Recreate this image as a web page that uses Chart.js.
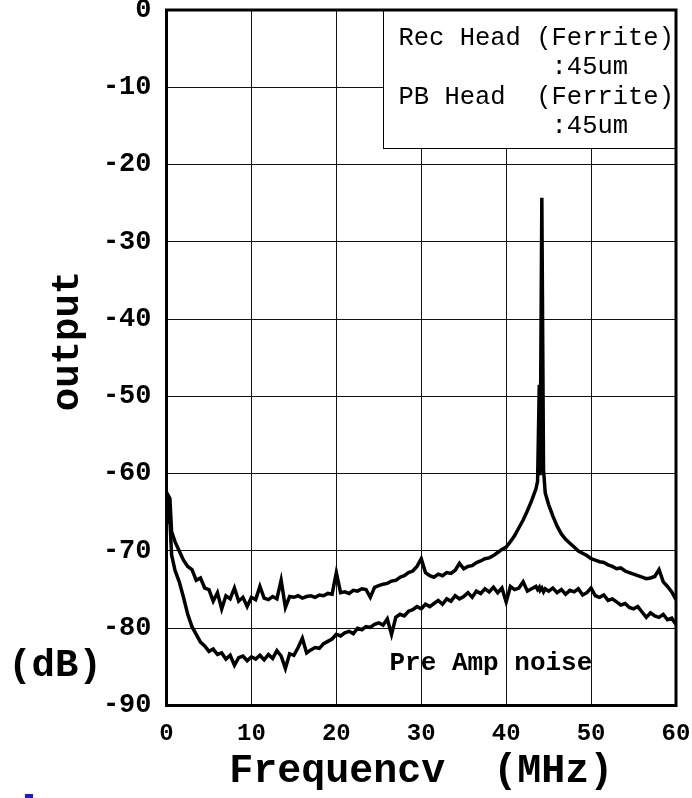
<!DOCTYPE html>
<html><head><meta charset="utf-8">
<script src="https://cdn.jsdelivr.net/npm/chart.js@4.4.0/dist/chart.umd.min.js"></script>
<style>html,body{margin:0;padding:0;background:#fff}#wrap{width:692px;height:798px}</style>
</head><body><div id="wrap"><canvas id="c" width="692" height="798"></canvas></div>
<script>
const freqMHz = [
  0,0.2,0.4,0.6,1,1.5,2,2.5,3,3.5,
  4,4.5,5,5.5,6,6.5,7,7.5,8,8.5,
  9,9.5,10,10.5,11,11.5,12,12.5,13,13.5,
  14,14.5,15,15.5,16,16.5,17,17.5,18,18.5,
  19,19.5,20,20.5,21,21.5,22,22.5,23,23.5,
  24,24.5,25,25.5,26,26.5,27,27.5,28,28.5,
  29,29.5,30,30.5,31,31.5,32,32.5,33,33.5,
  34,34.5,35,35.5,36,36.5,37,37.5,38,38.5,
  39,39.5,40,40.5,41,41.5,42,42.5,43,43.5,
  43.7,43.9,44,44.2,44.4,44.6,45,45.5,46,46.5,
  47,47.5,48,48.5,49,49.5,50,50.5,51,51.5,
  52,52.5,53,53.5,54,54.5,55,55.5,56,56.5,
  57,57.5,58,58.5,59,59.5,60
];
const recHeadOutput = [
  -66.5,-62.8,-63.2,-67.5,-68.8,-70.0,-71.2,-72.0,-72.4,-73.8,
  -73.5,-74.8,-75.0,-76.5,-75.4,-77.5,-75.8,-76.2,-74.8,-76.5,
  -76.0,-77.2,-76.0,-76.3,-74.6,-76.1,-76.3,-75.9,-76.2,-73.8,
  -77.3,-75.9,-76.0,-75.8,-76.1,-75.9,-75.8,-76.0,-75.7,-75.8,
  -75.5,-75.6,-72.8,-75.4,-75.3,-75.5,-75.1,-75.2,-74.9,-75.0,
  -76.0,-74.7,-74.5,-74.3,-74.2,-73.9,-73.8,-73.4,-73.2,-72.8,
  -72.6,-72.0,-71.0,-72.8,-73.2,-73.4,-73.0,-73.2,-72.8,-72.9,
  -72.5,-71.6,-72.3,-72.0,-71.9,-71.5,-71.3,-71.0,-70.9,-70.6,
  -70.2,-69.8,-69.5,-68.8,-68.0,-67.0,-66.0,-64.8,-63.5,-62.0,
  -61.0,-48.5,-60.2,-24.3,-59.5,-62.5,-64.0,-65.5,-66.8,-67.8,
  -68.5,-69.0,-69.5,-70.0,-70.3,-70.6,-71.0,-71.2,-71.4,-71.5,
  -71.8,-72.0,-72.3,-72.2,-72.6,-72.8,-73.0,-73.2,-73.4,-73.6,
  -73.5,-73.3,-72.4,-74.0,-74.6,-75.3,-76.3
];
const preAmpNoise = [
  -66.5,-63.0,-66.0,-70.5,-72.5,-74.0,-76.0,-78.2,-79.8,-80.8,
  -81.8,-82.3,-83.0,-82.7,-83.4,-83.2,-84.0,-83.5,-84.8,-83.8,
  -83.6,-84.2,-83.7,-84.0,-83.5,-84.1,-83.4,-83.9,-82.9,-83.6,
  -85.2,-83.3,-83.5,-82.5,-81.3,-83.2,-82.8,-82.5,-82.6,-82.0,
  -81.7,-81.4,-80.8,-81.0,-80.6,-80.4,-80.7,-80.0,-80.2,-79.8,
  -79.9,-79.5,-79.3,-79.6,-78.8,-80.8,-78.6,-78.2,-78.4,-77.8,
  -77.6,-77.2,-77.5,-76.9,-77.2,-76.8,-76.4,-76.9,-76.2,-76.5,
  -75.8,-76.2,-75.9,-75.4,-76.0,-75.2,-75.5,-74.9,-75.3,-74.7,
  -75.4,-74.8,-76.6,-74.6,-75.0,-74.8,-74.0,-75.2,-74.9,-74.6,
  -75.0,-74.7,-75.1,-74.8,-75.3,-74.9,-75.2,-74.8,-75.4,-75.0,
  -75.6,-75.1,-75.3,-74.9,-75.7,-75.4,-74.8,-75.8,-76.0,-75.7,
  -76.4,-76.2,-76.6,-77.0,-76.8,-77.3,-77.5,-77.2,-77.9,-78.6,
  -78.0,-78.4,-78.6,-78.2,-78.9,-78.7,-79.5
];
const xTickValues = [0,10,20,30,40,50,60];
const yTickValues = [0,-10,-20,-30,-40,-50,-60,-70,-80,-90];
const legendLines = ['Rec Head (Ferrite)', '          :45um', 'PB Head  (Ferrite)', '          :45um'];
const xTitle = 'Frequencv  (MHz)';
const yTitle = 'output';
const unitLabel = '(dB)';
const noiseLabel = 'Pre Amp noise';

const FONT = '"Liberation Mono", "Courier New", monospace';

const overlay = {
  id: 'overlay',
  afterDatasetsDraw(chart) {
    const {ctx, chartArea: a, scales: {x, y}} = chart;
    ctx.save();
    // legend box
    const bx = Math.round(x.getPixelForValue(25.5)) + 0.5;
    const byB = Math.round(y.getPixelForValue(-17.9)) + 0.5;
    ctx.fillStyle = '#fff';
    ctx.fillRect(bx, a.top, a.right - bx, byB - a.top);
    ctx.strokeStyle = '#000';
    ctx.lineWidth = 1;
    ctx.strokeRect(bx, a.top, a.right - bx, byB - a.top);
    ctx.fillStyle = '#000';
    ctx.font = '25.5px ' + FONT;
    ctx.textAlign = 'left';
    ctx.textBaseline = 'alphabetic';
    const bl = [45, 74, 104, 133];
    legendLines.forEach((t, i) => ctx.fillText(t, bx + 15, bl[i]));
    // noise label
    ctx.font = 'bold 26px ' + FONT;
    ctx.textAlign = 'center';
    ctx.textBaseline = 'middle';
    ctx.fillText(noiseLabel, x.getPixelForValue(38.2), y.getPixelForValue(-84.5));
    // frame
    ctx.lineWidth = 3;
    ctx.strokeStyle = '#000';
    ctx.strokeRect(a.left, a.top, a.right - a.left, a.bottom - a.top);
    ctx.restore();
  },
  afterDraw(chart) {
    const {ctx} = chart;
    ctx.save();
    ctx.fillStyle = '#000';
    ctx.font = 'bold 39px ' + FONT;
    ctx.textAlign = 'center';
    ctx.textBaseline = 'middle';
    ctx.save();
    ctx.translate(68, 341);
    ctx.rotate(-Math.PI / 2);
    ctx.fillText(yTitle, 0, 0);
    ctx.restore();
    ctx.fillText(unitLabel, 55, 666);
    ctx.fillStyle = '#1a1ad6';
    ctx.fillRect(25, 794, 8, 4);
    ctx.restore();
  }
};

new Chart(document.getElementById('c'), {
  type: 'line',
  data: {
    datasets: [
      {label: 'Rec/PB output', data: freqMHz.map((f, i) => ({x: f, y: recHeadOutput[i]})),
       borderColor: '#000', borderWidth: 3.5, pointRadius: 0, tension: 0, fill: false},
      {label: noiseLabel, data: freqMHz.map((f, i) => ({x: f, y: preAmpNoise[i]})),
       borderColor: '#000', borderWidth: 3.5, pointRadius: 0, tension: 0, fill: false}
    ]
  },
  options: {
    responsive: false,
    animation: false,
    devicePixelRatio: 1,
    layout: {padding: {top: 10, right: 16, left: 0, bottom: 0}},
    plugins: {legend: {display: false}, tooltip: {enabled: false}},
    scales: {
      x: {
        type: 'linear', min: 0, max: 60,
        afterBuildTicks(s) { s.ticks = xTickValues.map(v => ({value: v})); },
        grid: {color: '#111', lineWidth: 1, drawTicks: false},
        border: {display: false},
        ticks: {font: {family: FONT, weight: 'bold', size: 24}, color: '#000', padding: 14, maxRotation: 0, autoSkip: false},
        title: {display: true, text: xTitle, color: '#000', font: {family: FONT, weight: 'bold', size: 40}, padding: {top: 0, bottom: 2}},
        afterFit(s) { s.height = 92.5; s.paddingLeft = 0; s.paddingRight = 0; }
      },
      y: {
        type: 'linear', min: -90, max: 0,
        afterBuildTicks(s) { s.ticks = yTickValues.map(v => ({value: v})); },
        grid: {color: '#111', lineWidth: 1, drawTicks: false},
        border: {display: false},
        ticks: {font: {family: FONT, weight: 'bold', size: 27}, color: '#000', padding: 15, autoSkip: false},
        afterFit(s) { s.width = 166.5; s.paddingTop = 0; s.paddingBottom = 0; }
      }
    }
  },
  plugins: [overlay]
});
</script>
</body></html>
